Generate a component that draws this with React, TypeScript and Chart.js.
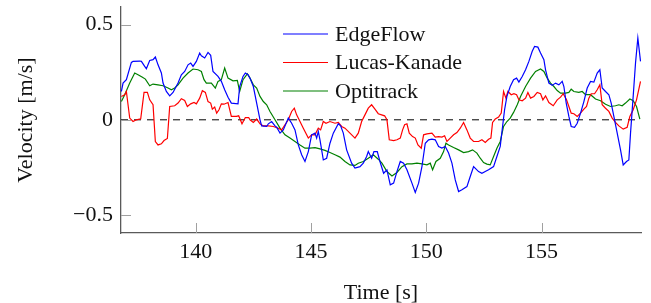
import React, { useEffect, useRef } from 'react';
import { Chart, registerables } from 'chart.js';

Chart.register(...registerables);

const X_MIN = 136.76;
const X_MAX = 159.31;
const Y_MIN = -0.595;
const Y_MAX = 0.593;
const X_TICKS = [140, 145, 150, 155];
const Y_TICKS = [-0.5, 0, 0.5];
const X_TITLE = 'Time [s]';
const Y_TITLE = 'Velocity [m/s]';
const FONT = "'Liberation Serif', 'Times New Roman', serif";

const EDGEFLOW: [number, number][] = [
  [136.777, 0.149], [136.849, 0.193], [136.993, 0.211], [137.21, 0.302], [137.282, 0.307], [137.571, 0.309],
  [137.644, 0.307], [137.788, 0.281], [137.86, 0.268], [138.005, 0.312], [138.149, 0.316], [138.25, 0.33],
  [138.366, 0.289], [138.511, 0.246], [138.583, 0.193], [138.727, 0.149], [138.872, 0.126], [139.016, 0.144],
  [139.233, 0.193], [139.378, 0.237], [139.522, 0.254], [139.667, 0.289], [139.782, 0.298], [139.883, 0.281],
  [140.028, 0.307], [140.172, 0.351], [140.245, 0.337], [140.389, 0.325], [140.534, 0.354], [140.649, 0.339],
  [140.75, 0.254], [140.967, 0.228], [141.112, 0.202], [141.256, 0.158], [141.401, 0.119], [141.545, 0.088],
  [141.834, 0.084], [141.906, 0.175], [142.051, 0.228], [142.152, 0.246], [142.268, 0.237],
  [142.354, 0.219], [142.499, 0.175], [142.643, 0.088], [142.788, 0.0], [142.86, -0.032], [143.077, -0.035],
  [143.149, -0.021], [143.293, -0.009], [143.438, -0.032], [143.51, -0.039], [143.655, -0.07], [143.799, -0.053],
  [144.016, 0.009], [144.16, -0.018], [144.305, -0.053], [144.449, -0.132], [144.594, -0.184], [144.738, -0.219],
  [144.883, -0.167], [145.027, -0.079], [145.172, -0.07], [145.244, -0.096], [145.316, -0.061], [145.389, -0.105],
  [145.533, -0.211], [145.678, -0.202], [145.822, -0.123], [145.967, -0.07], [146.183, -0.021], [146.284, -0.032],
  [146.4, -0.07], [146.545, -0.158], [146.761, -0.228], [146.906, -0.254], [147.123, -0.246], [147.267, -0.228],
  [147.412, -0.193], [147.484, -0.167], [147.628, -0.202], [147.729, -0.167], [147.874, -0.167], [147.99, -0.219],
  [148.148, -0.281], [148.293, -0.263], [148.437, -0.342], [148.582, -0.333], [148.726, -0.272], [148.871, -0.219],
  [149.015, -0.228], [149.16, -0.263], [149.377, -0.333], [149.521, -0.382], [149.666, -0.333], [149.81, -0.246],
  [149.955, -0.123], [150.099, -0.105], [150.244, -0.102], [150.388, -0.105], [150.533, -0.14], [150.677, -0.149],
  [150.822, -0.14], [150.966, -0.175], [151.111, -0.228], [151.255, -0.316], [151.4, -0.377], [151.544, -0.368],
  [151.761, -0.351], [151.905, -0.298], [152.05, -0.246], [152.267, -0.272], [152.411, -0.281], [152.556, -0.272],
  [152.7, -0.263], [152.917, -0.246], [153.061, -0.193], [153.206, -0.14], [153.307, -0.035], [153.394, 0.053],
  [153.495, 0.123], [153.639, 0.175], [153.784, 0.211],
  [153.914, 0.219], [154.015, 0.198], [154.159, 0.228], [154.304, 0.263], [154.448, 0.307], [154.593, 0.36],
  [154.694, 0.386], [154.838, 0.382], [154.954, 0.351], [155.099, 0.316], [155.171, 0.263], [155.315, 0.193],
  [155.46, 0.181], [155.604, 0.193], [155.749, 0.184], [155.893, 0.202], [155.966, 0.175], [156.067, 0.088],
  [156.182, 0.018], [156.283, -0.035], [156.428, -0.039], [156.544, -0.018], [156.688, 0.035], [156.833, 0.096],
  [156.977, 0.167], [157.122, 0.202], [157.266, 0.198], [157.411, 0.246], [157.526, 0.263], [157.627, 0.167],
  [157.772, 0.149], [157.916, 0.132], [158.017, 0.088], [158.133, 0.018], [158.278, -0.07], [158.422, -0.158],
  [158.538, -0.237], [158.682, -0.219], [158.783, -0.211], [158.856, -0.07], [158.971, 0.123], [159.072, 0.298],
  [159.173, 0.43], [159.289, 0.307],
];

const LUCAS_KANADE: [number, number][] = [
  [136.777, 0.123], [136.921, 0.132], [136.993, 0.149], [137.138, 0.009], [137.282, -0.009], [137.427, 0.0],
  [137.615, 0.005], [137.759, 0.144], [137.904, 0.144], [138.005, 0.105], [138.149, 0.079], [138.25, -0.114],
  [138.366, -0.132], [138.511, -0.126], [138.626, -0.109], [138.771, -0.098], [138.872, 0.07], [139.089, 0.074],
  [139.233, 0.088], [139.378, 0.111], [139.522, 0.102], [139.638, 0.07], [139.782, 0.084], [139.927, 0.091],
  [140.028, 0.084], [140.172, 0.114], [140.288, 0.153], [140.418, 0.144], [140.534, 0.096], [140.649, 0.088],
  [140.721, 0.056], [140.823, 0.067], [140.909, 0.035], [141.01, 0.053], [141.112, 0.084], [141.227, 0.082],
  [141.401, 0.091], [141.545, 0.018], [141.762, 0.018], [141.863, 0.021], [142.007, -0.021], [142.152, 0.012],
  [142.297, 0.012],
  [142.354, 0.0], [142.499, -0.014], [142.643, 0.004], [142.788, -0.021], [142.932, -0.032], [143.149, -0.032],
  [143.366, -0.035], [143.582, -0.044], [143.727, -0.053], [143.871, -0.026], [144.016, 0.0], [144.16, 0.044],
  [144.276, 0.061], [144.377, 0.026], [144.522, -0.009], [144.666, -0.044], [144.883, -0.096], [145.027, -0.079],
  [145.172, -0.079], [145.316, -0.044], [145.417, -0.053], [145.533, -0.009], [145.649, -0.018], [145.822, -0.009],
  [146.039, -0.018], [146.183, -0.014], [146.328, -0.035], [146.472, -0.044], [146.689, -0.07], [146.906, -0.096],
  [147.05, -0.07], [147.195, -0.009], [147.339, 0.026], [147.484, 0.061], [147.628, 0.079], [147.773, 0.056],
  [147.917, 0.032], [148.062, 0.026],
  [148.192, 0.021], [148.293, 0.0], [148.394, -0.105], [148.582, -0.109], [148.726, -0.105], [148.871, -0.096],
  [148.972, -0.053], [149.059, -0.026], [149.16, -0.021], [149.261, -0.07], [149.405, -0.088], [149.521, -0.096],
  [149.637, -0.132], [149.781, -0.149], [149.882, -0.079], [150.027, -0.074], [150.244, -0.07], [150.388, -0.091],
  [150.533, -0.088], [150.677, -0.091], [150.793, -0.084], [150.894, -0.114], [151.038, -0.096], [151.183, -0.079],
  [151.327, -0.067], [151.472, -0.044], [151.616, -0.014], [151.761, -0.053], [151.905, -0.096], [152.05, -0.114],
  [152.267, -0.114], [152.411, -0.105], [152.556, -0.119], [152.7, -0.102], [152.801, -0.096], [152.873, -0.014],
  [152.989, 0.004], [153.134, 0.014], [153.249, 0.035], [153.35, 0.149], [153.451, 0.114], [153.538, 0.149],
  [153.683, 0.132],
  [153.798, 0.137], [153.914, 0.132], [154.015, 0.105], [154.159, 0.1], [154.304, 0.114], [154.405, 0.144],
  [154.521, 0.114], [154.665, 0.123], [154.81, 0.144], [154.954, 0.137], [155.055, 0.105], [155.171, 0.126],
  [155.315, 0.091], [155.503, 0.074], [155.677, 0.105], [155.821, 0.119], [155.937, 0.137], [156.081, 0.105],
  [156.182, 0.07], [156.283, 0.035], [156.399, 0.032], [156.544, 0.018], [156.688, 0.035], [156.833, 0.056],
  [156.948, 0.07], [157.049, 0.114], [157.15, 0.137], [157.295, 0.137], [157.411, 0.158], [157.526, 0.184],
  [157.627, 0.079], [157.772, 0.061], [157.916, 0.044], [158.061, 0.009], [158.205, -0.014], [158.35, -0.032],
  [158.538, -0.049], [158.711, -0.039], [158.827, 0.018], [158.971, 0.053], [159.116, 0.105], [159.289, 0.202],
];

const OPTITRACK: [number, number][] = [
  [136.777, 0.096], [136.921, 0.132], [137.138, 0.193], [137.355, 0.246], [137.499, 0.237], [137.672, 0.225],
  [137.817, 0.214], [138.005, 0.179], [138.149, 0.188], [138.366, 0.184], [138.583, 0.179], [138.8, 0.167],
  [138.944, 0.158], [139.089, 0.167], [139.233, 0.184], [139.45, 0.219], [139.667, 0.246], [139.883, 0.267],
  [140.1, 0.263], [140.245, 0.254], [140.36, 0.211], [140.461, 0.193], [140.678, 0.193], [140.851, 0.167],
  [140.967, 0.202], [141.112, 0.211], [141.256, 0.272], [141.401, 0.219], [141.617, 0.205], [141.805, 0.207],
  [141.906, 0.149], [142.051, 0.211], [142.239, 0.242],
  [142.354, 0.219], [142.499, 0.184], [142.643, 0.167], [142.788, 0.123], [142.932, 0.096], [143.077, 0.079],
  [143.221, 0.044], [143.438, 0.0], [143.655, -0.044], [143.871, -0.079], [144.088, -0.096], [144.305, -0.114],
  [144.522, -0.132], [144.738, -0.149], [144.955, -0.149], [145.172, -0.146], [145.389, -0.153], [145.605, -0.161],
  [145.822, -0.172], [146.039, -0.184], [146.256, -0.196], [146.472, -0.219], [146.689, -0.237], [146.906, -0.24],
  [147.05, -0.228], [147.267, -0.219], [147.484, -0.202], [147.701, -0.184], [147.917, -0.207],
  [148.076, -0.228], [148.293, -0.272], [148.51, -0.295], [148.726, -0.277], [148.943, -0.246], [149.16, -0.232],
  [149.377, -0.232], [149.593, -0.228], [149.81, -0.232], [150.027, -0.237], [150.171, -0.228], [150.272, -0.263],
  [150.417, -0.219], [150.605, -0.202], [150.749, -0.167], [150.85, -0.123], [150.966, -0.132], [151.183, -0.146],
  [151.4, -0.158], [151.616, -0.172], [151.833, -0.167], [152.006, -0.158], [152.194, -0.175], [152.339, -0.202],
  [152.483, -0.225], [152.628, -0.233], [152.772, -0.237], [152.917, -0.193], [153.061, -0.149], [153.206, -0.114],
  [153.35, -0.035], [153.495, -0.009], [153.639, 0.009], [153.784, 0.039],
  [153.943, 0.079], [154.087, 0.123], [154.304, 0.175], [154.521, 0.219], [154.737, 0.254], [154.954, 0.267],
  [155.099, 0.254], [155.243, 0.219], [155.388, 0.193], [155.532, 0.175], [155.677, 0.154], [155.821, 0.14],
  [156.038, 0.14], [156.182, 0.144], [156.283, 0.161], [156.399, 0.149], [156.616, 0.144], [156.76, 0.149],
  [156.905, 0.132], [157.122, 0.132], [157.338, 0.109], [157.555, 0.1], [157.772, 0.082], [157.989, 0.07],
  [158.205, 0.074], [158.35, 0.079], [158.494, 0.074], [158.639, 0.088], [158.827, 0.109], [158.971, 0.1],
  [159.116, 0.07], [159.26, 0.004],
];

const SERIES = [
  { label: 'EdgeFlow', data: EDGEFLOW, color: '#0000ff' },
  { label: 'Lucas-Kanade', data: LUCAS_KANADE, color: '#ff0000' },
  { label: 'Optitrack', data: OPTITRACK, color: '#008000' },
];

const fmtY = (v: number) => (v === 0 ? '0' : v < 0 ? '\u2212' + Math.abs(v) : String(v));

const tickPlugin = {
  id: 'innerTicks',
  afterDatasetsDraw(chart: any) {
    const { ctx, chartArea, scales } = chart;
    ctx.save();
    ctx.strokeStyle = '#a0a0a0';
    ctx.lineWidth = 1;
    X_TICKS.forEach((v) => {
      const px = Math.round(scales.x.getPixelForValue(v)) + 0.5;
      ctx.beginPath();
      ctx.moveTo(px, chartArea.bottom);
      ctx.lineTo(px, chartArea.bottom - 10);
      ctx.stroke();
    });
    Y_TICKS.forEach((v) => {
      const py = Math.round(scales.y.getPixelForValue(v)) + 0.5;
      ctx.beginPath();
      ctx.moveTo(chartArea.left, py);
      ctx.lineTo(chartArea.left + 10, py);
      ctx.stroke();
    });
    ctx.restore();
  },
};

const legendPlugin = {
  id: 'texLegend',
  afterDraw(chart: any) {
    const { ctx, chartArea } = chart;
    const x0 = chartArea.left + 162;
    const y0 = chartArea.top + 27;
    const rowH = 28.5;
    ctx.save();
    ctx.font = `22px ${FONT}`;
    ctx.textBaseline = 'middle';
    ctx.textAlign = 'left';
    SERIES.forEach((s, i) => {
      const y = y0 + i * rowH;
      ctx.strokeStyle = s.color;
      ctx.lineWidth = 1.2;
      ctx.beginPath();
      ctx.moveTo(x0, y);
      ctx.lineTo(x0 + 45, y);
      ctx.stroke();
      ctx.fillStyle = '#111';
      ctx.fillText(s.label, x0 + 52, y + 1);
    });
    ctx.restore();
  },
};

export default function App() {
  const ref = useRef<HTMLCanvasElement | null>(null);
  useEffect(() => {
    if (!ref.current) return;
    const datasets: any[] = SERIES.map((s) => ({
      label: s.label,
      data: s.data.map(([x, y]) => ({ x, y })),
      borderColor: s.color,
      backgroundColor: s.color,
      borderWidth: 1.2,
      pointRadius: 0,
      tension: 0,
      fill: false,
    }));
    datasets.push({
      label: 'zero',
      data: [{ x: X_MIN, y: 0 }, { x: X_MAX, y: 0 }],
      borderColor: '#000',
      borderWidth: 1,
      borderDash: [7, 6],
      pointRadius: 0,
      fill: false,
    });
    const chart = new Chart(ref.current, {
      type: 'line',
      data: { datasets },
      options: {
        animation: false,
        responsive: false,
        devicePixelRatio: 1,
        layout: { padding: { left: 0, top: 7, right: 10, bottom: 0 } },
        plugins: { legend: { display: false }, tooltip: { enabled: false } },
        scales: {
          x: {
            type: 'linear',
            min: X_MIN,
            max: X_MAX,
            afterBuildTicks: (s: any) => { s.ticks = X_TICKS.map((v) => ({ value: v })); },
            afterFit: (s: any) => { s.height = 70; s.paddingLeft = 0; s.paddingRight = 0; },
            grid: { display: false, drawTicks: false },
            border: { display: true, color: '#5a5a5a', width: 1.3 },
            ticks: {
              padding: 6,
              color: '#111',
              font: { family: FONT, size: 22 },
              maxRotation: 0,
              callback: (v: any) => String(v),
            },
            title: { display: true, text: X_TITLE, color: '#111', font: { family: FONT, size: 22 }, padding: { top: 0, bottom: -3 } },
          },
          y: {
            type: 'linear',
            min: Y_MIN,
            max: Y_MAX,
            afterBuildTicks: (s: any) => { s.ticks = Y_TICKS.map((v) => ({ value: v })); },
            afterFit: (s: any) => { s.width = 121; s.paddingTop = 0; s.paddingBottom = 0; },
            grid: { display: false, drawTicks: false },
            border: { display: true, color: '#5a5a5a', width: 1.3 },
            ticks: {
              padding: 8,
              color: '#111',
              font: { family: FONT, size: 22 },
              callback: (v: any) => fmtY(Number(v)),
            },
            title: { display: true, text: Y_TITLE, color: '#111', font: { family: FONT, size: 22 }, padding: { top: 13, bottom: 0 } },
          },
        },
      },
      plugins: [tickPlugin, legendPlugin],
    });
    return () => chart.destroy();
  }, []);
  return (
    <div style={{ position: 'absolute', left: 0, top: 0, width: 651, height: 303, background: '#fff' }}>
      <canvas ref={ref} width={651} height={303} />
    </div>
  );
}
